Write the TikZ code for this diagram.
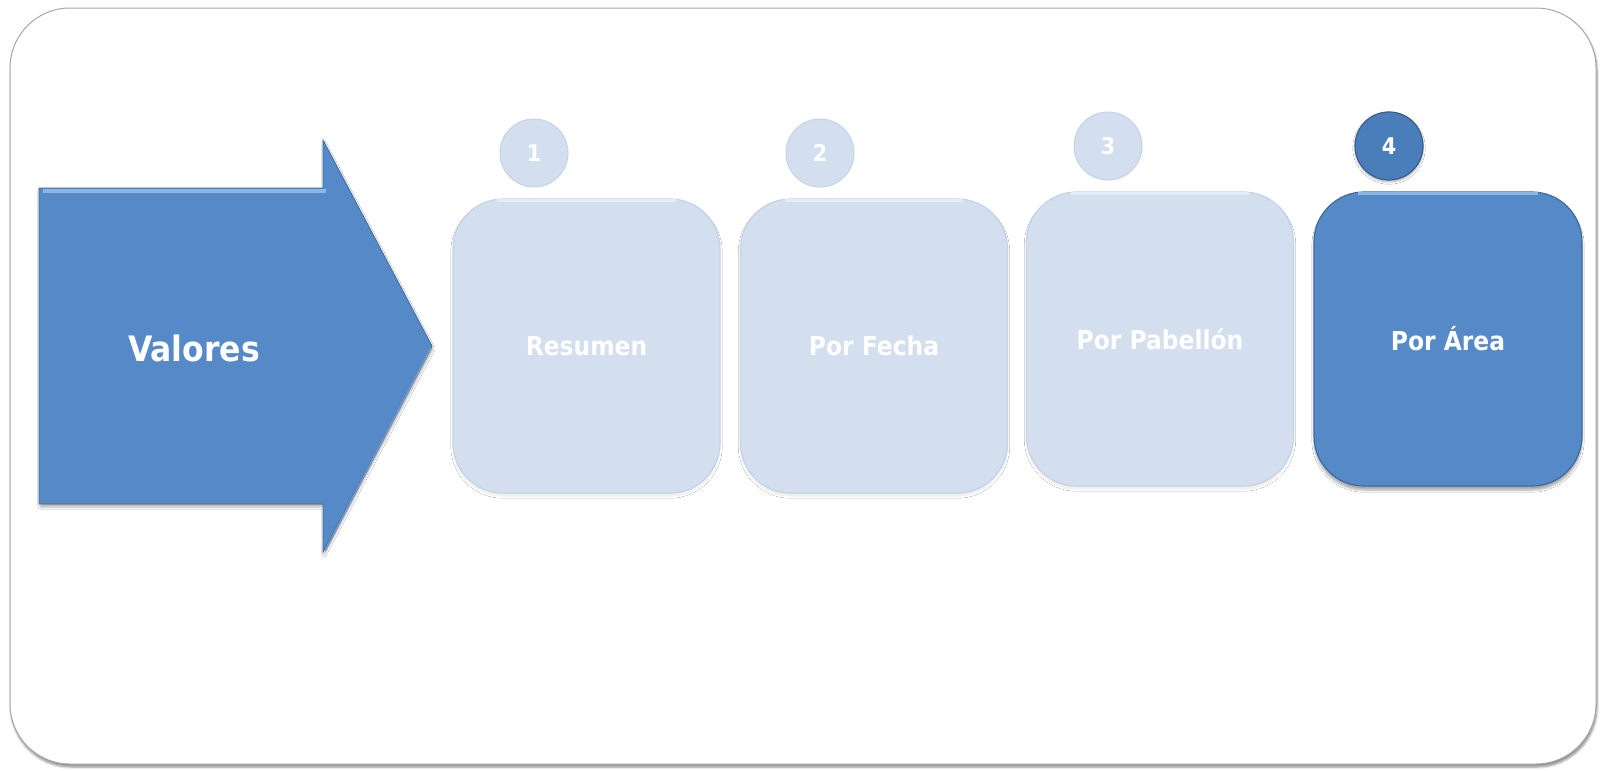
\documentclass[tikz,border=0pt]{standalone}
\usepackage{fontspec}
\setmainfont{DejaVu Sans}[FakeStretch=0.9]
\usetikzlibrary{shadows.blur}
\definecolor{mainblue}{HTML}{5589C8}
\definecolor{darkblue}{HTML}{3F6A9E}
\definecolor{hiblue}{HTML}{8DB5E6}
\definecolor{lightbox}{HTML}{D3DFEE}
\definecolor{lightedge}{HTML}{C3D3E8}
\definecolor{lighthi}{HTML}{E3EDF9}
\definecolor{circdark}{HTML}{4A7EBB}
\definecolor{circedge}{HTML}{365F90}
\tikzset{
  frame/.style={draw=black!35, fill=white, line width=1pt, rounded corners=60pt,
    blur shadow={shadow xshift=1pt, shadow yshift=-3pt, shadow blur steps=6, shadow opacity=45}},
  lightcard/.style={draw=lightedge, line width=1.2pt, fill=lightbox, rounded corners=50pt,
    minimum width=267pt, minimum height=294pt, inner sep=0pt,
    blur shadow={shadow xshift=0pt, shadow yshift=-3pt, shadow blur steps=8, shadow opacity=9}},
  darkcard/.style={draw=darkblue, line width=1.2pt, fill=mainblue, rounded corners=50pt,
    minimum width=268pt, minimum height=294pt, inner sep=0pt,
    blur shadow={shadow xshift=0pt, shadow yshift=-4pt, shadow blur steps=8, shadow opacity=35}},
  lightcirc/.style={circle, draw=lightedge, line width=1pt, fill=lightbox, minimum size=68pt, inner sep=0pt},
  darkcirc/.style={circle, draw=circedge, line width=1.2pt, fill=circdark, minimum size=68pt, inner sep=0pt,
    blur shadow={shadow xshift=0pt, shadow yshift=-2pt, shadow blur steps=6, shadow opacity=30}},
  cardtext/.style={text=white, font=\fontsize{26}{30}\selectfont\bfseries},
  numtext/.style={text=white, font=\fontsize{23}{27}\selectfont\bfseries},
  arrowshape/.style={fill=mainblue, draw=darkblue, line width=0.8pt,
    blur shadow={shadow xshift=1pt, shadow yshift=-3pt, shadow blur steps=6, shadow opacity=30}},
}
\begin{document}
\begin{tikzpicture}[x=1pt,y=-1pt]
\useasboundingbox (0,0) rectangle (1604,771);
% outer frame
\draw[frame] (10,8) rectangle (1596,764);
% big arrow
\coordinate (a1) at (39,188);
\coordinate (a2) at (323,188);
\coordinate (a3) at (323,140);
\coordinate (a4) at (432,346);
\coordinate (a5) at (323,552);
\coordinate (a6) at (323,504);
\coordinate (a7) at (39,504);
\draw[arrowshape] (a1) -- (a2) -- (a3) -- (a4) -- (a5) -- (a6) -- (a7) -- cycle;
\draw[hiblue, line width=4pt] (43,191) -- (326,191);
\draw[darkblue!80, line width=2pt] (41,502) -- (323,502);
\draw[darkblue!70, line width=2pt] (325,551) -- (431,348);
\node[text=white, font=\fontsize{35}{40}\selectfont\bfseries] (valores) at (194,348) {Valores};
% cards
\node[lightcard] (c1) at (586.5,346) {};
\node[lightcard] (c2) at (874,346) {};
\node[lightcard] (c3) at (1160,339) {};
\node[darkcard] (c4) at (1448,339) {};
\draw[lighthi, line width=3pt] ([xshift=45pt,yshift=-2.5pt]c1.north west) -- ([xshift=-45pt,yshift=-2.5pt]c1.north east);
\draw[lighthi, line width=3pt] ([xshift=45pt,yshift=-2.5pt]c2.north west) -- ([xshift=-45pt,yshift=-2.5pt]c2.north east);
\draw[lighthi, line width=3pt] ([xshift=45pt,yshift=-2.5pt]c3.north west) -- ([xshift=-45pt,yshift=-2.5pt]c3.north east);
\draw[hiblue, line width=3pt] ([xshift=45pt,yshift=-2.5pt]c4.north west) -- ([xshift=-45pt,yshift=-2.5pt]c4.north east);
\node[cardtext] (t1) at (c1.center) {Resumen};
\node[cardtext] (t2) at (c2.center) {Por Fecha};
\node[cardtext] (t3) at (c3.center) {Por Pabellón};
\node[cardtext] (t4) at (c4.center) {Por Área};
% number circles
\node[lightcirc] (n1) at (534,153) {};
\node[lightcirc] (n2) at (820,153) {};
\node[lightcirc] (n3) at (1108,146) {};
\node[darkcirc] (n4) at (1389,146) {};
\node[numtext] at (n1.center) {1};
\node[numtext] at (n2.center) {2};
\node[numtext] at (n3.center) {3};
\node[numtext] at (n4.center) {4};
\end{tikzpicture}
\end{document}
